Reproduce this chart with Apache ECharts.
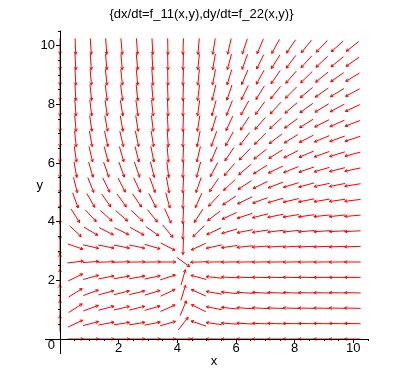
<!DOCTYPE html>
<html><head><meta charset="utf-8">
<script src="https://cdn.jsdelivr.net/npm/echarts@6/dist/echarts.min.js"></script>
<style>html,body{margin:0;padding:0;background:#fff}#c{width:403px;height:371px}</style>
</head><body><div id="c"></div>
<script>
// grid positions of the arrows (data units)
const xGrid = [0, 0.525, 1.05, 1.575, 2.1, 2.625, 3.15, 3.675, 4.2, 4.725, 5.25, 5.775, 6.3, 6.825, 7.35, 7.875, 8.4, 8.925, 9.45, 9.975];
const yGrid = [0, 0.525, 1.05, 1.575, 2.1, 2.625, 3.15, 3.675, 4.2, 4.725, 5.25, 5.775, 6.3, 6.825, 7.35, 7.875, 8.4, 8.925, 9.45, 9.975];
// arrow directions (degrees, 0 = +x, 90 = +y), one array per row of yGrid
const dirRow00 = [null, 0, 0, 0, 0, 0, 0, 0, 0, 180, 180, 180, 180, 180, 180, 180, 180, 180, 180, 180];
const dirRow01 = [90, 25, 14, 10, 9, 9, 11, 16, 52, 161, 172, 176, 177, 178, 178, 179, 179, 179, 179, 179];
const dirRow02 = [90, 33, 20, 15, 13, 14, 16, 24, 68, 154, 169, 174, 176, 177, 178, 178, 179, 179, 179, 179];
const dirRow03 = [90, 32, 20, 15, 14, 14, 17, 25, 73, 156, 170, 174, 176, 177, 178, 178, 179, 179, 179, 179];
const dirRow04 = [90, 26, 15, 11, 10, 10, 12, 18, 74, 165, 174, 177, 178, 179, 179, 179, 179, 180, 180, 180];
const dirRow05 = [90, 7, 4, 2, 2, 1, 1, 0, -36, -178, -179, -179, -179, -179, -179, -179, -179, -179, -179, -180];
const dirRow06 = [-90, -19, -13, -11, -11, -12, -16, -27, -92, -155, -168, -172, -174, -176, -177, -177, -178, -178, -178, -178];
const dirRow07 = [-90, -43, -31, -27, -26, -29, -35, -51, -93, -136, -155, -164, -169, -171, -173, -174, -175, -176, -177, -177];
const dirRow08 = [-90, -58, -47, -42, -41, -43, -51, -66, -93, -123, -143, -155, -162, -166, -169, -171, -172, -174, -174, -175];
const dirRow09 = [-90, -70, -60, -55, -54, -56, -63, -75, -93, -114, -133, -146, -154, -160, -164, -167, -169, -171, -172, -173];
const dirRow10 = [-90, -76, -68, -64, -63, -65, -70, -80, -93, -109, -124, -137, -147, -154, -159, -163, -165, -168, -169, -171];
const dirRow11 = [-90, -80, -74, -71, -70, -71, -76, -83, -93, -105, -118, -130, -140, -148, -154, -158, -161, -164, -166, -168];
const dirRow12 = [-90, -82, -77, -75, -74, -76, -79, -85, -93, -103, -113, -124, -134, -142, -148, -153, -157, -160, -163, -165];
const dirRow13 = [-90, -84, -80, -78, -77, -78, -81, -86, -93, -101, -110, -119, -128, -136, -143, -148, -153, -157, -160, -162];
const dirRow14 = [-90, -85, -82, -80, -80, -81, -83, -87, -92, -99, -107, -115, -123, -131, -138, -144, -148, -153, -156, -159];
const dirRow15 = [-90, -86, -83, -82, -81, -82, -84, -88, -92, -98, -105, -112, -119, -126, -133, -139, -144, -149, -152, -155];
const dirRow16 = [-90, -87, -84, -83, -83, -84, -85, -88, -92, -97, -103, -109, -116, -122, -129, -135, -140, -145, -149, -152];
const dirRow17 = [-90, -87, -85, -84, -84, -85, -86, -89, -92, -96, -101, -107, -113, -119, -125, -131, -136, -141, -145, -149];
const dirRow18 = [-90, -87, -86, -85, -85, -85, -87, -89, -92, -96, -100, -105, -110, -116, -122, -127, -132, -137, -141, -145];
const dirRow19 = [-90, -88, -86, -86, -85, -86, -87, -89, -92, -95, -99, -103, -108, -113, -119, -124, -129, -134, -138, -142];
const dirRows = [dirRow00, dirRow01, dirRow02, dirRow03, dirRow04, dirRow05, dirRow06, dirRow07, dirRow08, dirRow09,
                 dirRow10, dirRow11, dirRow12, dirRow13, dirRow14, dirRow15, dirRow16, dirRow17, dirRow18, dirRow19];
const xMajorTicks = [0, 2, 4, 6, 8, 10];
const xTickLabels = [2, 4, 6, 8, 10];
const yMajorTicks = [0, 2, 4, 6, 8, 10];
const yTickLabels = [0, 2, 4, 6, 8, 10];
const minorTicks = [0.5, 1, 1.5, 2.5, 3, 3.5, 4.5, 5, 5.5, 6.5, 7, 7.5, 8.5, 9, 9.5, 10.5];
const titleText = '{dx/dt=f_11(x,y),dy/dt=f_22(x,y)}';

const arrowLen = 0.545;   // style: arrow length in axis units
const axisOverhang = 0.5; // style: axis lines run a little past the origin
const FONT = '"Liberation Sans", Arial, Helvetica, sans-serif';

const data = [];
yGrid.forEach((y, j) => xGrid.forEach((x, i) => {
  const a = dirRows[j][i];
  if (a !== null) data.push([x, y, a]);
}));

const chart = echarts.init(document.getElementById('c'), null, {renderer: 'canvas'});

function minorAxis(pos) {
  return {
    type: 'value', min: 0, max: 10.5, position: pos, z: 5,
    axisLine: {show: false, onZero: false},
    axisTick: {show: true, customValues: minorTicks, length: 2, lineStyle: {color: '#000', width: 1}},
    axisLabel: {show: false}, splitLine: {show: false}
  };
}

chart.setOption({
  animation: false,
  backgroundColor: '#fff',
  title: {
    text: titleText, left: 'center', top: 8, padding: 0,
    textStyle: {fontSize: 13, fontWeight: 'normal', color: '#000', fontFamily: FONT}
  },
  grid: {left: 60, top: 31, width: 308, height: 308, containLabel: false, outerBoundsMode: 'none'},
  xAxis: [{
    type: 'value', min: 0, max: 10.5, position: 'bottom', z: 5,
    axisLine: {show: true, onZero: false, lineStyle: {color: '#000', width: 1}},
    axisTick: {show: true, customValues: xMajorTicks, length: 4, lineStyle: {color: '#000', width: 1}},
    axisLabel: {customValues: xTickLabels, margin: 3, color: '#000', fontSize: 13, fontFamily: FONT},
    splitLine: {show: false},
    name: 'x', nameLocation: 'middle', nameGap: 16, nameMoveOverlap: false,
    nameTextStyle: {color: '#000', fontSize: 13, fontFamily: FONT}
  }, minorAxis('bottom')],
  yAxis: [{
    type: 'value', min: 0, max: 10.5, position: 'left', z: 5,
    axisLine: {show: true, onZero: false, lineStyle: {color: '#000', width: 1}},
    axisTick: {show: true, customValues: yMajorTicks, length: 4, lineStyle: {color: '#000', width: 1}},
    axisLabel: {
      customValues: yTickLabels, margin: 5, color: '#000', fontSize: 13, fontFamily: FONT,
      formatter: v => (v === 0 ? '{z|0}' : String(v)),
      rich: {z: {fontSize: 13, fontFamily: FONT, color: '#000', padding: [12, 0, 0, 0]}}
    },
    splitLine: {show: false},
    name: 'y', nameLocation: 'middle', nameRotate: 0, nameGap: 17, nameMoveOverlap: false,
    nameTextStyle: {color: '#000', fontSize: 13, fontFamily: FONT, padding: [0, 0, 3, 0]}
  }, minorAxis('left')],
  series: [{
    type: 'custom', coordinateSystem: 'cartesian2d', xAxisIndex: 0, yAxisIndex: 0, z: 1,
    data: data, silent: true, clip: false,
    renderItem: function (params, api) {
      const c = api.coord([api.value(0), api.value(1)]);
      const a = api.value(2) * Math.PI / 180;
      const len = api.size([arrowLen, 0])[0];
      const dx = Math.cos(a), dy = -Math.sin(a);
      const h = len / 2;
      const tail = [c[0] - dx * h, c[1] - dy * h];
      const tip = [c[0] + dx * h, c[1] + dy * h];
      const bl = 3, ba = 28 * Math.PI / 180;
      const bx = -dx, by = -dy;
      const b1 = [tip[0] + bl * (bx * Math.cos(ba) - by * Math.sin(ba)), tip[1] + bl * (bx * Math.sin(ba) + by * Math.cos(ba))];
      const b2 = [tip[0] + bl * (bx * Math.cos(-ba) - by * Math.sin(-ba)), tip[1] + bl * (bx * Math.sin(-ba) + by * Math.cos(-ba))];
      const st = {stroke: '#ff0000', lineWidth: 1, fill: null};
      return {type: 'group', children: [
        {type: 'polyline', shape: {points: [tail, tip]}, style: st},
        {type: 'polyline', shape: {points: [b1, tip, b2]}, style: st}
      ]};
    }
  }]
});

// extend the two axis lines a little past the origin, as in the original plot
const o = chart.convertToPixel({gridIndex: 0}, [0, 0]);
const xl = chart.convertToPixel({gridIndex: 0}, [-axisOverhang, 0]);
const yb = chart.convertToPixel({gridIndex: 0}, [0, -axisOverhang]);
chart.setOption({
  graphic: [
    {type: 'line', z: 10, silent: true, shape: {x1: Math.round(xl[0]), y1: Math.round(o[1]) + 0.5, x2: Math.round(o[0]), y2: Math.round(o[1]) + 0.5}, style: {stroke: '#000', lineWidth: 1}},
    {type: 'line', z: 10, silent: true, shape: {x1: Math.round(o[0]) + 0.5, y1: Math.round(o[1]), x2: Math.round(o[0]) + 0.5, y2: Math.round(yb[1])}, style: {stroke: '#000', lineWidth: 1}}
  ]
});
</script>
</body></html>
